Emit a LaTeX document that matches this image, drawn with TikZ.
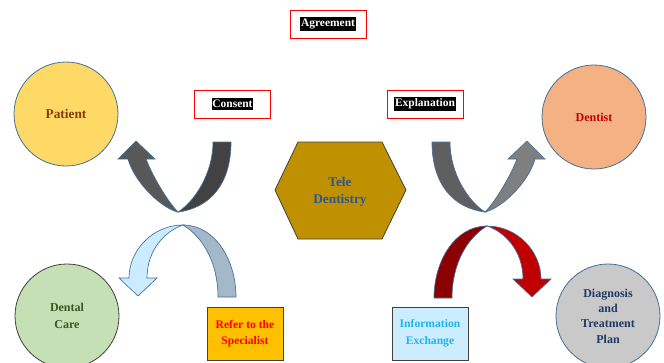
\documentclass[tikz,border=0pt]{standalone}
\usepackage{fontspec}
\setmainfont{Liberation Serif}
\definecolor{arrowline}{HTML}{41719C}
\definecolor{circline}{HTML}{41719C}
\definecolor{darkline}{HTML}{404040}
\definecolor{patfill}{HTML}{FFD966}
\definecolor{pattext}{HTML}{843C0C}
\definecolor{denfill}{HTML}{F4B183}
\definecolor{dentext}{HTML}{C00000}
\definecolor{carefill}{HTML}{C5E0B4}
\definecolor{caretext}{HTML}{385723}
\definecolor{diagfill}{HTML}{C9C9C9}
\definecolor{diagtext}{HTML}{1F3864}
\definecolor{hexfill}{HTML}{BF9000}
\definecolor{hextext}{HTML}{2F5597}
\definecolor{referfill}{HTML}{FFC000}
\definecolor{refertext}{HTML}{FF0000}
\definecolor{infofill}{HTML}{CCECFF}
\definecolor{infotext}{HTML}{1FB4F0}
\definecolor{aOneTail}{HTML}{424242}
\definecolor{aOneHead}{HTML}{585858}
\definecolor{aTwoTail}{HTML}{5F5F5F}
\definecolor{aTwoHead}{HTML}{7F7F7F}
\definecolor{aThreeTail}{HTML}{A4B8CA}
\definecolor{aThreeHead}{HTML}{CDEBFF}
\definecolor{aFourTail}{HTML}{8B0000}
\definecolor{aFourHead}{HTML}{C00000}
\newcommand{\myUArrow}[2]{%
  \filldraw[fill=#1, draw=arrowline, line width=0.5pt]
    (53,-70) .. controls (53,-28) and (32,-4) .. (0,0)
    .. controls (16,-10) and (35,-38) .. (35,-70) -- cycle;
  \filldraw[fill=#2, draw=arrowline, line width=0.5pt]
    (0,0) .. controls (-15,-3) and (-43,-28) .. (-50,-53)
    -- (-60,-53) -- (-42,-71) -- (-23,-53) -- (-32,-53)
    .. controls (-25,-35) and (-10,-10) .. (0,0) -- cycle;
}
\newcommand{\myArchArrow}[2]{%
  \filldraw[fill=#1, draw=arrowline, line width=0.5pt]
    (53,-72) .. controls (53,-35) and (32,0) .. (0,0)
    .. controls (20,-12) and (35,-38) .. (35,-72) -- cycle;
  \filldraw[fill=#2, draw=arrowline, line width=0.5pt]
    (0,0) .. controls (-30,0) and (-54,-25) .. (-54,-53)
    -- (-64,-53) -- (-45,-71) -- (-26,-53) -- (-36,-53)
    .. controls (-36,-25) and (-18,-6) .. (0,0) -- cycle;
}
\tikzset{
  circ/.style={circle, minimum size=78pt, inner sep=0pt, line width=0.6pt, align=center,
    font=\fontsize{9}{11.5}\selectfont\bfseries},
  redbox/.style={draw=red, line width=0.7pt, minimum width=57pt, minimum height=21pt, inner sep=0pt},
  hilite/.style={fill=black, text=white, inner xsep=0.6pt, inner ysep=1.6pt,
    font=\fontsize{8.6}{10}\selectfont\bfseries},
  sqbox/.style={draw=darkline, line width=0.6pt, minimum width=57pt, minimum height=39.75pt,
    inner sep=0pt, align=center, font=\fontsize{8.7}{12.5}\selectfont\bfseries},
}
\begin{document}
\begin{tikzpicture}[x=0.75pt, y=-0.75pt]
\useasboundingbox (0,0) rectangle (664,362);
% title boxes
\node[redbox] (agreeB) at (328,24) {};
\node[hilite] (agree) at (328,24) {Agreement};
\node[redbox] (consB) at (232.5,104) {};
\node[hilite] (cons) at (232.5,104) {Consent};
\node[redbox] (explB) at (425,104) {};
\node[hilite] (expl) at (425,104) {Explanation};
% circles
\node[circ, draw=circline, fill=patfill, text=pattext, font=\fontsize{10}{12}\selectfont\bfseries] (patient) at (66,114) {Patient};
\node[circ, draw=circline, fill=denfill, text=dentext] (dentist) at (594,117) {Dentist};
\node[circ, draw=darkline, fill=carefill, text=caretext, font=\fontsize{9}{12.5}\selectfont\bfseries] (care) at (67,316) {Dental\\Care};
\node[circ, draw=circline, fill=diagfill, text=diagtext] (diag) at (608,316) {Diagnosis\\and\\Treatment\\Plan};
% hexagon
\coordinate (h1) at (275,190);
\coordinate (h2) at (298,142);
\coordinate (h3) at (382,142);
\coordinate (h4) at (406,190);
\coordinate (h5) at (382,239);
\coordinate (h6) at (298,239);
\filldraw[fill=hexfill, draw=darkline, line width=0.6pt] (h1) -- (h2) -- (h3) -- (h4) -- (h5) -- (h6) -- cycle;
\node[align=center, text=hextext, font=\fontsize{10}{13}\selectfont\bfseries] (tele) at (340,192) {Tele\\Dentistry};
% boxes
\node[sqbox, fill=referfill, text=refertext] (refer) at (245,333.5) {Refer to the\\Specialist};
\node[sqbox, fill=infofill, text=infotext] (info) at (430,333.5) {Information\\Exchange};
% curved arrows
\begin{scope}[shift={(178,212)}]
  \myUArrow{aOneTail}{aOneHead}
\end{scope}
\begin{scope}[shift={(485,212)}, xscale=-1]
  \myUArrow{aTwoTail}{aTwoHead}
\end{scope}
\begin{scope}[shift={(183,225)}, yscale=-1]
  \myArchArrow{aThreeTail}{aThreeHead}
\end{scope}
\begin{scope}[shift={(487,226)}, xscale=-1, yscale=-1]
  \myArchArrow{aFourTail}{aFourHead}
\end{scope}
\end{tikzpicture}
\end{document}
